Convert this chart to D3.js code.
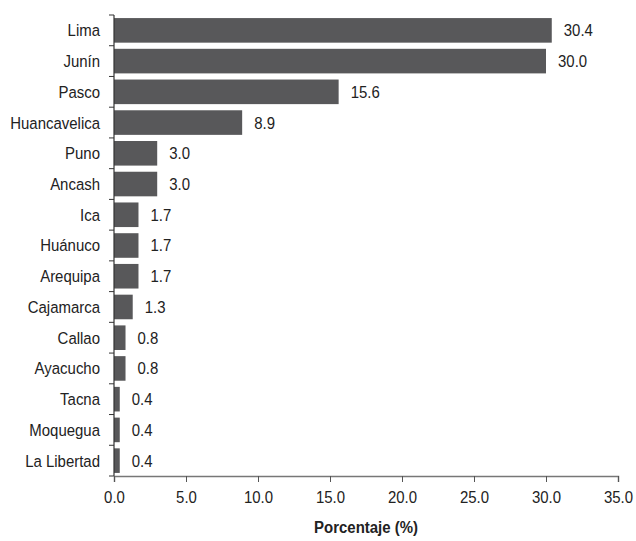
<!DOCTYPE html>
<html><head><meta charset="utf-8">
<script src="https://cdn.jsdelivr.net/npm/d3@7"></script>
<style>body{margin:0;background:#fff}svg{display:block}</style>
</head><body>
<script>
const categories = ["Lima","Junín","Pasco","Huancavelica","Puno","Ancash","Ica","Huánuco","Arequipa","Cajamarca","Callao","Ayacucho","Tacna","Moquegua","La Libertad"];
const values = [30.4,30.0,15.6,8.9,3.0,3.0,1.7,1.7,1.7,1.3,0.8,0.8,0.4,0.4,0.4];
const xTicks = [0,5,10,15,20,25,30,35];
const xTitle = "Porcentaje (%)";

const W=636,H=541;
const m={left:114,right:18,top:15,bottom:65};
const svg=d3.select("body").append("svg").attr("width",W).attr("height",H);
const font="'Liberation Sans', Arial, sans-serif";
const fs=17, sx=0.88;
const x=d3.scaleLinear().domain([0,35]).range([m.left,W-m.right]);
const y=d3.scaleBand().domain(categories).range([m.top,H-m.bottom]).paddingInner(0.2).paddingOuter(0.1);

svg.append("g").selectAll("rect").data(categories).join("rect")
  .attr("x",x(0)).attr("y",d=>y(d)).attr("height",y.bandwidth())
  .attr("width",(d,i)=>x(values[i])-x(0)).attr("fill","#58585a");

svg.append("g").selectAll("g").data(categories).join("g")
  .attr("transform",(d,i)=>`translate(${x(values[i])+12},${y(d)+y.bandwidth()/2}) scale(${sx},1)`)
  .append("text").attr("dy","0.35em").attr("font-family",font).attr("font-size",fs).attr("fill","#222")
  .text((d,i)=>values[i].toFixed(1));

const gy=svg.append("g").attr("transform",`translate(${m.left},0)`);
gy.append("line").attr("x1",0).attr("x2",0).attr("y1",m.top).attr("y2",H-m.bottom).attr("stroke","#333").attr("stroke-width",1.2);
const bounds=d3.range(categories.length+1).map(i=>m.top+i*((H-m.bottom-m.top)/categories.length));
gy.selectAll("line.t").data(bounds).join("line").attr("class","t")
  .attr("x1",-5).attr("x2",0).attr("y1",d=>d).attr("y2",d=>d).attr("stroke","#333");
gy.selectAll("g.lab").data(categories).join("g").attr("class","lab")
  .attr("transform",d=>`translate(-14,${y(d)+y.bandwidth()/2}) scale(${sx},1)`)
  .append("text").attr("dy","0.35em")
  .attr("text-anchor","end").attr("font-family",font).attr("font-size",fs).attr("fill","#222").text(d=>d);

const gx=svg.append("g").attr("transform",`translate(0,${H-m.bottom})`)
  .call(d3.axisBottom(x).tickValues(xTicks).tickFormat(d3.format(".1f")).tickSizeOuter(0).tickSize(6).tickPadding(9));
gx.select(".domain").attr("stroke","#777").attr("stroke-width",1.5);
gx.selectAll(".tick line").attr("stroke","#555");
gx.selectAll("text").attr("font-family",font).attr("font-size",fs).attr("fill","#222").attr("transform",`scale(${sx},1)`);

svg.append("g").attr("transform",`translate(${(m.left+W-m.right)/2},${H-8}) scale(${sx},1)`)
  .append("text").attr("text-anchor","middle").attr("font-family",font).attr("font-size",fs).attr("font-weight","bold").attr("fill","#222")
  .text(xTitle);
</script>
</body></html>
